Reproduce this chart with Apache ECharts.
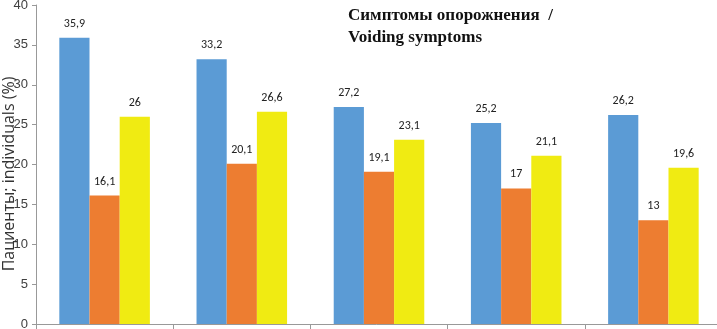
<!DOCTYPE html>
<html>
<head>
<meta charset="utf-8">
<script src="https://cdn.jsdelivr.net/npm/echarts@6/dist/echarts.min.js"></script>
<style>
  html, body { margin: 0; padding: 0; background: #fff; }
  #chart { width: 717px; height: 329px; }
</style>
</head>
<body>
<div id="chart"></div>
<script>
const categories = ['1', '2', '3', '4', '5'];
const blueValues = [35.9, 33.2, 27.2, 25.2, 26.2];
const orangeValues = [16.1, 20.1, 19.1, 17, 13];
const yellowValues = [26, 26.6, 23.1, 21.1, 19.6];
const yTicks = [0, 5, 10, 15, 20, 25, 30, 35, 40];
const yAxisTitle = 'Пациенты; individuals (%)';

const chart = echarts.init(document.getElementById('chart'));

// подписи с запятой вместо точки
const labelOpt = {
  show: true,
  position: 'top',
  distance: 8,
  color: '#222',
  fontFamily: 'Calibri, Carlito, "Open Sans", sans-serif',
  fontSize: 12,
  formatter: p => String(p.value).replace('.', ',')
};

const makeSeries = (data, color) => ({
  type: 'bar',
  data,
  barGap: '0%',
  barCategoryGap: '34%',
  itemStyle: { color },
  label: labelOpt
});

const option = {
  animation: false,
  backgroundColor: '#fff',
  grid: { left: 36, right: -5, top: 5, bottom: 5, outerBoundsMode: 'none', containLabel: false },
  graphic: [
    {
      type: 'text',
      left: 348,
      top: 5,
      style: {
        text: 'Симптомы опорожнения  /\nVoiding symptoms',
        font: 'bold 17px "Liberation Serif", "DejaVu Serif", serif',
        fill: '#111',
        lineHeight: 22
      }
    },
    {
      type: 'text',
      x: 9,
      y: 174,
      rotation: Math.PI / 2,
      style: {
        text: yAxisTitle,
        font: '16px "Open Sans", sans-serif',
        fill: '#333',
        align: 'center',
        verticalAlign: 'middle'
      }
    }
  ],
  xAxis: {
    type: 'category',
    data: categories,
    axisLine: { lineStyle: { color: '#999' } },
    axisTick: { show: true, length: 5, lineStyle: { color: '#999' } },
    axisLabel: { show: false }
  },
  yAxis: {
    type: 'value',
    min: yTicks[0],
    max: yTicks[yTicks.length - 1],
    interval: 5,
    axisLine: { show: true, lineStyle: { color: '#999' } },
    axisTick: { show: true, length: 4, lineStyle: { color: '#999' } },
    axisLabel: { color: '#404040', fontSize: 13, margin: 8 },
    splitLine: { show: false }
  },
  series: [
    makeSeries(blueValues, '#5B9BD5'),
    makeSeries(orangeValues, '#ED7D31'),
    makeSeries(yellowValues, '#F0EB12')
  ]
};

chart.setOption(option);
</script>
</body>
</html>
